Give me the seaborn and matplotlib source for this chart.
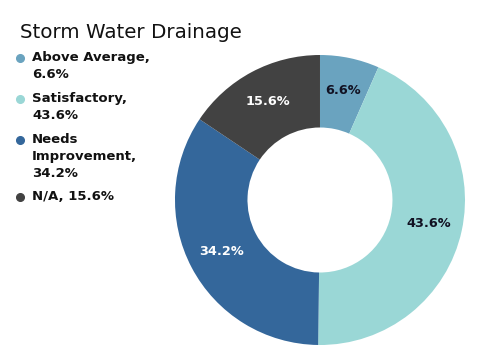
import matplotlib
matplotlib.use("Agg")
import matplotlib.pyplot as plt
import seaborn as sns

# data
categories = ["Above Average", "Satisfactory", "Needs Improvement", "N/A"]
shares = [6.6, 43.6, 34.2, 15.6]
legend_labels = ["Above Average,\n6.6%", "Satisfactory,\n43.6%",
                 "Needs\nImprovement,\n34.2%", "N/A, 15.6%"]
colors = ["#6aa3bf", "#9ad7d6", "#34679b", "#424242"]
label_colors = ["#111122", "#111122", "white", "white"]

sns.set_theme(style="white")
plt.rcParams["font.family"] = ["DejaVu Sans"]

fig = plt.figure(figsize=(4.87, 3.64), dpi=100)
fig.patch.set_facecolor("white")

# donut
ax = fig.add_axes([0.3593, 0.0522, 0.5955, 0.7967])
wedges, texts, autotexts = ax.pie(
    shares, colors=sns.color_palette(colors), startangle=90, counterclock=False,
    autopct=lambda p: f"{p:.1f}%", pctdistance=0.77,
    wedgeprops=dict(width=0.5, linewidth=0),
    textprops=dict(fontsize=9.3, fontweight="bold"))
for t, c in zip(autotexts, label_colors):
    t.set_color(c)
ax.set_xlim(-1, 1)
ax.set_ylim(-1, 1)
ax.set_aspect("auto")

# title
fig.text(20 / 487, 1 - 23 / 364, "Storm Water Drainage", fontsize=14.3,
         ha="left", va="top", color="#111111")

# legend drawn by hand so the dot sits on the first line
tops = [53, 94, 135, 192]
for lab, col, top in zip(legend_labels, colors, tops):
    fig.text(32 / 487, 1 - (top - 2) / 364, lab, fontsize=9.5, fontweight="bold",
             ha="left", va="top", linespacing=1.42, color="#111111")
    fig.add_artist(plt.Line2D([20 / 487], [1 - (top + 5) / 364], marker="o",
                              markersize=5.5, color=col, linestyle="none",
                              transform=fig.transFigure))

fig.savefig("out.png", dpi=100)
